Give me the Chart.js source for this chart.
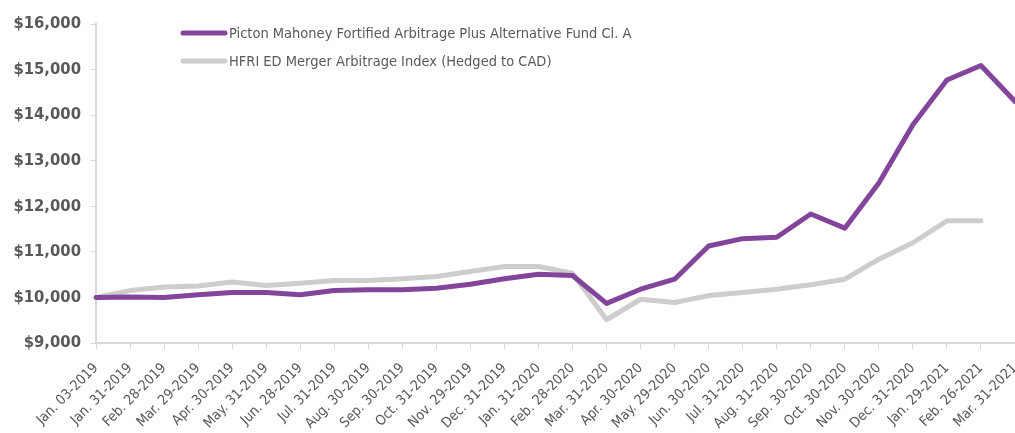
<!DOCTYPE html>
<html>
<head>
<meta charset="utf-8">
<script src="https://cdn.jsdelivr.net/npm/chart.js@4.4.1/dist/chart.umd.min.js"></script>
<style>
  html, body { margin: 0; padding: 0; background: #fff; overflow: hidden; }
  #wrap { position: relative; width: 1015px; height: 433px; }
</style>
</head>
<body>
<div id="wrap"><canvas id="lineChart"></canvas></div>
<script>
const labels = [
  'Jan. 03-2019', 'Jan. 31-2019', 'Feb. 28-2019', 'Mar. 29-2019', 'Apr. 30-2019', 'May. 31-2019',
  'Jun. 28-2019', 'Jul. 31-2019', 'Aug. 30-2019', 'Sep. 30-2019', 'Oct. 31-2019', 'Nov. 29-2019',
  'Dec. 31-2019', 'Jan. 31-2020', 'Feb. 28-2020', 'Mar. 31-2020', 'Apr. 30-2020', 'May. 29-2020',
  'Jun. 30-2020', 'Jul. 31-2020', 'Aug. 31-2020', 'Sep. 30-2020', 'Oct. 30-2020', 'Nov. 30-2020',
  'Dec. 31-2020', 'Jan. 29-2021', 'Feb. 26-2021', 'Mar. 31-2021'
];

const fundValues = [
  10000, 10010, 10000, 10060, 10110, 10110, 10060, 10150, 10170, 10170, 10200, 10290,
  10410, 10510, 10480, 9870, 10180, 10400, 11130, 11290, 11320, 11830, 11520, 12510,
  13790, 14770, 15090, 14300
];

const indexValues = [
  10000, 10150, 10230, 10250, 10340, 10260, 10310, 10370, 10370, 10410, 10460, 10570,
  10680, 10680, 10530, 9510, 9960, 9890, 10040, 10110, 10180, 10280, 10400, 10840,
  11200, 11680, 11680, null
];

const seriesNames = [
  'Picton Mahoney Fortified Arbitrage Plus Alternative Fund Cl. A',
  'HFRI ED Merger Arbitrage Index (Hedged to CAD)'
];

const yMin = 9000;
const yMax = 16000;
const yStep = 1000;

const textGrey = '#595959';
const axisGrey = '#d9d9d9';

// legend sits inside the plot, top left
const insideLegend = {
  id: 'insideLegend',
  afterDraw(chart) {
    const ctx = chart.ctx;
    ctx.save();
    ctx.font = '14.5px "DejaVu Sans Condensed", sans-serif';
    ctx.textBaseline = 'middle';
    chart.data.datasets.forEach((ds, i) => {
      const y = 33 + i * 28;
      ctx.strokeStyle = ds.borderColor;
      ctx.lineWidth = 5;
      ctx.lineCap = 'round';
      ctx.beginPath();
      ctx.moveTo(183, y);
      ctx.lineTo(225, y);
      ctx.stroke();
      ctx.fillStyle = textGrey;
      ctx.fillText(ds.label, 229, y + 1);
    });
    ctx.restore();
  }
};

const ctx = document.getElementById('lineChart');

new Chart(ctx, {
  type: 'line',
  data: {
    labels: labels,
    datasets: [
      {
        label: seriesNames[0],
        data: fundValues,
        borderColor: '#83449b',
        borderWidth: 5,
        pointRadius: 0,
        tension: 0,
        borderJoinStyle: 'round',
        borderCapStyle: 'round'
      },
      {
        label: seriesNames[1],
        data: indexValues,
        borderColor: '#cfcdcb',
        borderWidth: 5,
        pointRadius: 0,
        tension: 0,
        borderJoinStyle: 'round',
        borderCapStyle: 'round'
      }
    ]
  },
  options: {
    responsive: true,
    maintainAspectRatio: false,
    animation: false,
    layout: { padding: { top: 24, left: 0, right: 0, bottom: 0 } },
    plugins: {
      legend: { display: false },
      tooltip: { enabled: false }
    },
    scales: {
      x: {
        offset: false,
        grid: { display: true, drawOnChartArea: false, color: axisGrey, tickLength: 6 },
        border: { color: axisGrey, width: 2 },
        ticks: {
          color: textGrey,
          autoSkip: false,
          minRotation: 45,
          maxRotation: 45,
          padding: 11,
          font: { family: '"DejaVu Sans Condensed", sans-serif', size: 14 }
        },
        afterFit(scale) {
          scale.height = 90;
          scale.paddingRight = 0;
          scale.paddingLeft = 0;
        }
      },
      y: {
        min: yMin,
        max: yMax,
        grid: { display: true, drawOnChartArea: false, color: axisGrey, tickLength: 5 },
        border: { color: axisGrey, width: 2 },
        ticks: {
          stepSize: yStep,
          color: textGrey,
          padding: 10,
          font: { family: '"DejaVu Sans Condensed", sans-serif', size: 16.5, weight: 'bold' },
          callback: (v) => '$' + v.toLocaleString('en-US')
        },
        afterFit(scale) {
          scale.width = 96;
        }
      }
    }
  },
  plugins: [insideLegend]
});
</script>
</body>
</html>
